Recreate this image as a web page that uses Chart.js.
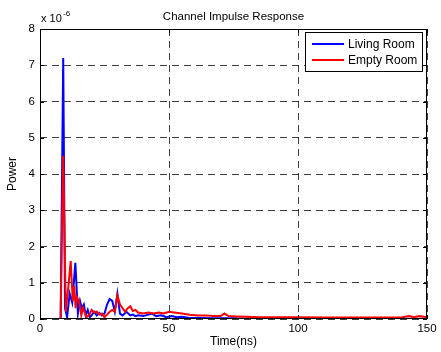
<!DOCTYPE html>
<html>
<head>
<meta charset="utf-8">
<script src="https://cdn.jsdelivr.net/npm/chart.js@4/dist/chart.umd.min.js"></script>
<style>
html,body{margin:0;padding:0;background:#fff;}
#wrap{width:441px;height:352px;position:relative;}
</style>
</head>
<body>
<div id="wrap"><canvas id="c" width="441" height="352"></canvas></div>
<script>
// ---- data (time in ns, power in units of 1e-6) ----
const chartTitle = 'Channel Impulse Response';
const xLabel = 'Time(ns)';
const yLabel = 'Power';
const seriesNames = ['Living Room', 'Empty Room'];
const xTicks = [0, 50, 100, 150];
const yTicks = [0, 1, 2, 3, 4, 5, 6, 7, 8];

const livingTime = [0,8,9,9.7,10.5,11.5,12.5,13.7,14.7,15.5,16.2,17,17.7,18.5,19.3,20,21,22,23,24,25,26,27,28,29,30,31,32,33.5,35,36,37,38,40,42,43.5,45,47,49,51,53,55,58,62,66,70,75,80,90,100,110,120,125,130,135,140,145,150];
const livingPower = [0,0,7.2,0.3,0.05,0.7,0.45,1.55,0.15,0.5,0.3,0.4,0.1,0.25,0.05,0.1,0.2,0.1,0.17,0.1,0.15,0.4,0.55,0.5,0.2,0.7,0.15,0.1,0.2,0.1,0.12,0.08,0.1,0.08,0.12,0.15,0.08,0.1,0.05,0.08,0.05,0.06,0.03,0.03,0.02,0.02,0.02,0.01,0.02,0.01,0.02,0.01,0.0,0.01,0.0,0.01,0.01,0.01];

const emptyTime = [0,8,9,10,11,11.9,12.7,13.3,13.8,14.3,15,15.5,16,16.7,17.5,18,19,20,21,22,23,24,25,26,27,28,29,30,31,32,33,34,35,36,37,38,40,42,44,46,48,50,52,55,58,61,64,67,70,71.5,73,76,80,85,90,100,110,120,130,140,143,145,147,150];
const emptyPower = [0,0,4.5,0.2,0.9,1.6,0.5,0.9,0.3,0.6,0.5,0.35,0.1,0.3,0.15,0.05,0.1,0.25,0.18,0.2,0.12,0.15,0.05,0.12,0.2,0.25,0.2,0.65,0.4,0.3,0.2,0.3,0.35,0.22,0.25,0.18,0.15,0.18,0.15,0.18,0.15,0.2,0.18,0.15,0.12,0.1,0.1,0.08,0.08,0.15,0.08,0.07,0.06,0.05,0.05,0.05,0.04,0.04,0.04,0.04,0.08,0.05,0.08,0.05];

const toXY = (xs, ys) => xs.map((x, i) => ({x: x, y: ys[i]}));

const FONT = '"Liberation Sans", Arial, Helvetica, sans-serif';

const decor = {
  id: 'decor',
  afterDraw(chart) {
    const ctx = chart.ctx;
    const a = chart.chartArea;
    const xs = chart.scales.x, ys = chart.scales.y;
    ctx.save();
    // box
    ctx.strokeStyle = '#000';
    ctx.lineWidth = 1;
    ctx.setLineDash([]);
    ctx.strokeRect(Math.round(a.left) + 0.5, Math.round(a.top) + 0.5, Math.round(a.right - a.left) - 1, Math.round(a.bottom - a.top) - 1);
    // inward ticks
    ctx.beginPath();
    const tl = 4;
    xTicks.forEach(v => {
      const px = Math.round(xs.getPixelForValue(v)) + 0.5;
      ctx.moveTo(px, a.bottom); ctx.lineTo(px, a.bottom - tl);
      ctx.moveTo(px, a.top); ctx.lineTo(px, a.top + tl);
    });
    yTicks.forEach(v => {
      const py = Math.round(ys.getPixelForValue(v)) + 0.5;
      ctx.moveTo(a.left, py); ctx.lineTo(a.left + tl, py);
      ctx.moveTo(a.right, py); ctx.lineTo(a.right - tl, py);
    });
    ctx.stroke();
    // title
    ctx.fillStyle = '#000';
    ctx.font = '11.5px ' + FONT;
    ctx.textAlign = 'center';
    ctx.textBaseline = 'middle';
    ctx.fillText(chartTitle, (a.left + a.right) / 2, 17);
    // exponent
    ctx.font = '11px ' + FONT;
    ctx.textAlign = 'left';
    ctx.textBaseline = 'alphabetic';
    ctx.fillText('x 10', 41, 22);
    ctx.font = '8px ' + FONT;
    ctx.fillText('-6', 63, 16);
    // legend
    const lx = 305, ly = 32, lw = 117, lh = 39;
    ctx.fillStyle = '#fff';
    ctx.fillRect(lx, ly, lw, lh);
    ctx.strokeStyle = '#000';
    ctx.lineWidth = 1;
    ctx.strokeRect(lx + 0.5, ly + 0.5, lw, lh);
    const colors = ['#0000ff', '#ff0000'];
    ctx.font = '12px ' + FONT;
    ctx.textBaseline = 'middle';
    seriesNames.forEach((n, i) => {
      const yy = ly + 12 + i * 16;
      ctx.strokeStyle = colors[i];
      ctx.lineWidth = 2;
      ctx.beginPath();
      ctx.moveTo(lx + 7, yy); ctx.lineTo(lx + 39, yy);
      ctx.stroke();
      ctx.fillStyle = '#000';
      ctx.fillText(n, lx + 43, yy + 1);
    });
    ctx.restore();
  }
};

new Chart(document.getElementById('c'), {
  type: 'line',
  data: {
    datasets: [
      { label: seriesNames[0], data: toXY(livingTime, livingPower), borderColor: '#0000ff', borderWidth: 2, pointRadius: 0, tension: 0, fill: false, order: 1 },
      { label: seriesNames[1], data: toXY(emptyTime, emptyPower), borderColor: '#ff0000', borderWidth: 2, pointRadius: 0, tension: 0, fill: false, order: 0 }
    ]
  },
  options: {
    responsive: false,
    animation: false,
    events: [],
    layout: { padding: { left: 0, right: 14, top: 29, bottom: 0 } },
    plugins: { legend: { display: false }, tooltip: { enabled: false }, title: { display: false } },
    scales: {
      x: {
        type: 'linear', min: 0, max: 150,
        afterBuildTicks: s => { s.ticks = xTicks.map(v => ({value: v})); },
        afterFit: s => { s.height = 33; },
        ticks: { color: '#000', font: { family: FONT, size: 11.5 }, padding: 3, maxRotation: 0 },
        grid: { color: 'rgba(0,0,0,0.75)', lineWidth: 1, drawTicks: false },
        border: { display: false, dash: [7, 5] },
        title: { display: true, text: xLabel, color: '#000', font: { family: FONT, size: 12 }, padding: { top: 0, bottom: 3 } }
      },
      y: {
        type: 'linear', min: 0, max: 8,
        afterBuildTicks: s => { s.ticks = yTicks.map(v => ({value: v})); },
        afterFit: s => { s.width = 40; },
        ticks: { color: '#000', font: { family: FONT, size: 11.5 }, padding: 5 },
        grid: { color: 'rgba(0,0,0,0.75)', lineWidth: 1, drawTicks: false },
        border: { display: false, dash: [7, 5] },
        title: { display: true, text: yLabel, color: '#000', font: { family: FONT, size: 12 }, padding: { top: 5, bottom: 0 } }
      }
    }
  },
  plugins: [decor]
});
</script>
</body>
</html>
